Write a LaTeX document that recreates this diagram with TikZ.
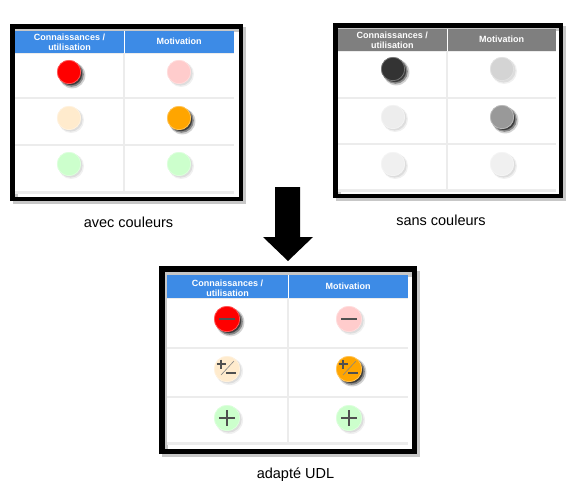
\documentclass[tikz,border=0pt]{standalone}
\usepackage{fontspec}
\setmainfont{Liberation Sans}
\definecolor{hdrblue}{HTML}{3D8BE6}
\definecolor{hdrgray}{HTML}{7F7F7F}
\definecolor{gridc}{HTML}{ECECEC}
\definecolor{symc}{HTML}{505050}
\definecolor{lred}{HTML}{FF0000}
\definecolor{lpink}{HTML}{FFCCCC}
\definecolor{lcream}{HTML}{FFEBCD}
\definecolor{lorange}{HTML}{FFA500}
\definecolor{lgreen}{HTML}{CCFFCC}
\colorlet{hdr}{hdrblue}
\newcommand\mytable[9]{%
  \fill[gridc] (#1,#5) rectangle (#3,#8+1.5);
  \fill[white] (#1,#5+1) rectangle (#2-1,#6-1);
  \fill[white] (#2+1,#5+1) rectangle (#3-0.5,#6-1);
  \fill[white] (#1,#6+1) rectangle (#2-1,#7-1);
  \fill[white] (#2+1,#6+1) rectangle (#3-0.5,#7-1);
  \fill[white] (#1,#7+1) rectangle (#2-1,#8-1);
  \fill[white] (#2+1,#7+1) rectangle (#3-0.5,#8-1);
  \fill[hdr] (#1,#4) rectangle (#3,#5);
  \draw[white,line width=1pt] (#2,#4) -- (#2,#5);
}
\newcommand\lampdark[4]{%
  \colorlet{lampc}{#3}%
  \fill[black,opacity=0.18] (#1+3.2,#2+3.2) circle[radius=#4pt+1.2pt];
  \fill[black,opacity=0.35] (#1+2.6,#2+2.6) circle[radius=#4pt+0.2pt];
  \fill[black,opacity=0.55] (#1+2,#2+2) circle[radius=#4pt-0.8pt];
  \fill[lampc] (#1,#2) circle[radius=#4pt];
  \draw[lampc!60!white,line width=0.6pt] (#1,#2) circle[radius=#4pt-0.3pt];
}
\newcommand\lamplight[4]{%
  \colorlet{lampc}{#3}%
  \fill[black,opacity=0.06] (#1+2.2,#2+2.2) circle[radius=#4pt+0.8pt];
  \fill[black,opacity=0.08] (#1+1.6,#2+1.6) circle[radius=#4pt];
  \fill[lampc] (#1,#2) circle[radius=#4pt];
  \draw[lampc!60!white,line width=0.6pt] (#1,#2) circle[radius=#4pt-0.3pt];
}
\newcommand\symminus[2]{\draw[symc,line width=1.6pt] (#1-8,#2) -- (#1+8,#2);}
\newcommand\symplus[2]{\draw[symc,line width=1.6pt] (#1-8,#2) -- (#1+8,#2) (#1,#2-8) -- (#1,#2+8);}
\newcommand\sympm[2]{%
  \draw[symc,line width=1.5pt] (#1-10.5,#2-5) -- (#1-1.5,#2-5) (#1-6,#2-9.5) -- (#1-6,#2-0.5);
  \draw[symc!70!white,line width=0.6pt] (#1-6,#2+6) -- (#1+7,#2-8);
  \draw[symc,line width=1.6pt] (#1-1,#2+4) -- (#1+8.5,#2+4);
}
\tikzset{
  hdrtext/.style={text=white,font=\fontsize{9}{9.6}\selectfont\bfseries,align=center,inner sep=0pt},
  caption/.style={font=\fontsize{14.5}{16}\selectfont,inner sep=0pt},
  frameline/.style={draw=black},
  frameshadow/.style={draw=black,opacity=0.22}
}
\begin{document}
\begin{tikzpicture}[x=1pt,y=-1pt]
\useasboundingbox[fill=white] (0,0) rectangle (577,496);
% ---------- panel 1 ----------
\draw[frameshadow,line width=5pt] (15.25,29.25) rectangle (243.75,201.75);
\colorlet{hdr}{hdrblue}
\mytable{15}{124}{234}{31}{53}{98}{145}{192}{0}
\draw[frameline,line width=4.5pt] (12.25,26.25) rectangle (240.75,198.75);
\node[hdrtext] (p1h1) at (69.5,42) {Connaissances /\\utilisation};
\node[hdrtext] (p1h2) at (179,41) {Motivation};
\lampdark{69}{72}{lred}{12}
\lamplight{179}{72}{lpink}{12}
\lamplight{69}{118}{lcream}{12}
\lampdark{179}{118}{lorange}{12}
\lamplight{69}{164}{lgreen}{12}
\lamplight{179}{164}{lgreen}{12}
\node[caption] (c1) at (128.5,222) {avec couleurs};
% ---------- panel 2 ----------
\draw[frameshadow,line width=5pt] (338.25,28.25) rectangle (563.75,198.75);
\colorlet{hdr}{hdrgray}
\mytable{337.5}{447}{556}{29}{51}{98}{144}{190}{0}
\draw[frameline,line width=4.5pt] (335.25,25.25) rectangle (560.75,195.75);
\node[hdrtext] (p2h1) at (392.25,40) {Connaissances /\\utilisation};
\node[hdrtext] (p2h2) at (501.5,39) {Motivation};
\lampdark{393}{69}{black!80}{12}
\lamplight{502}{69}{black!17}{12}
\lamplight{393}{117}{black!7}{12}
\lampdark{502}{117}{black!40}{12}
\lamplight{393}{164}{black!6}{12}
\lamplight{502}{164}{black!6}{12}
\node[caption] (c2) at (441,220) {sans couleurs};
% ---------- arrow ----------
\fill[black] (275,187) -- (300,187) -- (300,237) -- (313,237) -- (288,261) -- (263,237) -- (275,237) -- cycle;
% ---------- panel 3 ----------
\draw[frameshadow,line width=5.5pt] (164.75,273.75) rectangle (417.25,454.25);
\colorlet{hdr}{hdrblue}
\mytable{167}{288}{408}{275}{298}{348}{397}{443}{0}
\draw[frameline,line width=5.5pt] (161.75,268.75) rectangle (414.25,451.25);
\node[hdrtext] (p3h1) at (227.5,288) {Connaissances /\\utilisation};
\node[hdrtext] (p3h2) at (348,286.5) {Motivation};
\lampdark{227}{319}{lred}{13}
\symminus{227}{319}
\lamplight{349}{319}{lpink}{13}
\symminus{349}{319}
\lamplight{227}{369}{lcream}{13}
\sympm{227}{369}
\lampdark{349}{369}{lorange}{13}
\sympm{349}{369}
\lamplight{227}{418}{lgreen}{13}
\symplus{227}{418}
\lamplight{349}{418}{lgreen}{13}
\symplus{349}{418}
\node[caption] (c3) at (295.5,475) {adapté UDL};
\end{tikzpicture}
\end{document}
